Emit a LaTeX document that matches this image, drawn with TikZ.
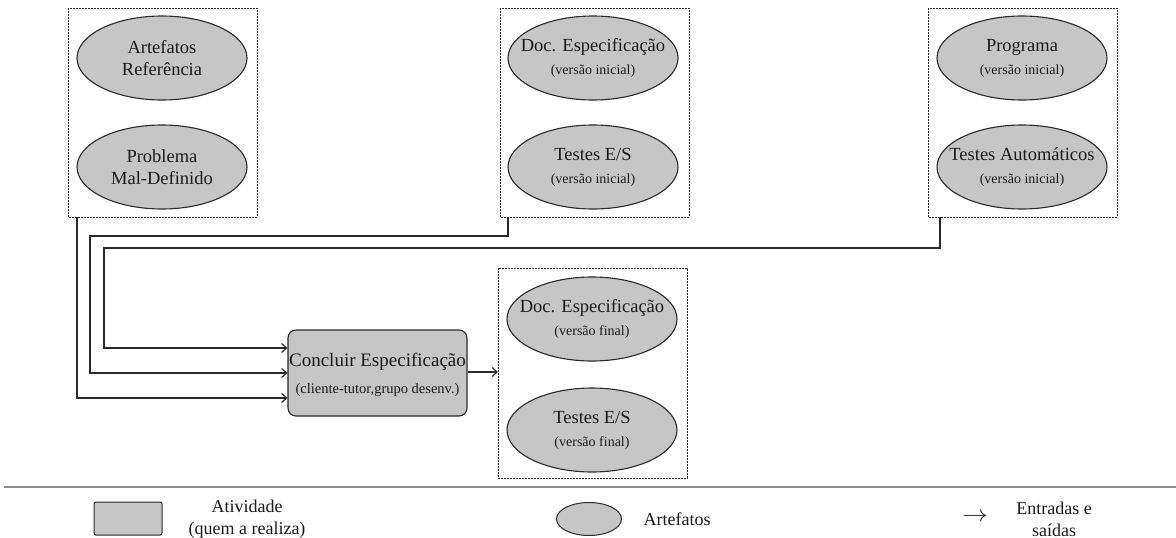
\documentclass[tikz,border=0pt]{standalone}
\usepackage{fontspec}
\setmainfont{Liberation Serif}
\usetikzlibrary{arrows.meta,shapes.geometric}
\definecolor{artfill}{HTML}{C6C6C6}
\definecolor{edge}{HTML}{2A2A2A}
\definecolor{ink}{HTML}{1A1A1A}
\newcommand{\subtxt}[1]{{\fontsize{14}{16}\selectfont #1}}
\tikzset{
  art/.style={ellipse, draw=edge, line width=1.1pt, fill=artfill,
    minimum width=170pt, minimum height=84pt, inner sep=0pt,
    label={[text=ink, align=center, font=\fontsize{18.5}{22}\selectfont]center:#1}},
  grp/.style={draw=edge, line width=0.9pt, dash pattern=on 2pt off 1pt},
  act/.style={draw=edge, line width=1.1pt, fill=artfill, rounded corners=8pt,
    minimum width=179pt, minimum height=86pt, inner sep=0pt},
  flow/.style={draw=edge, line width=1.2pt, -{Straight Barb[length=5pt,width=9pt]}},
  lgtxt/.style={text=ink, font=\fontsize{18}{22}\selectfont, align=center},
}
\begin{document}
\begin{tikzpicture}[x=1pt,y=-1pt]
\useasboundingbox (0,0) rectangle (1176,538);

% input groups
\draw[grp] (68,8) rectangle (257,217);
\node[art={Artefatos\\Referência}] (ref) at (162,58) {};
\node[art={Problema\\Mal-Definido}] (prob) at (162,167) {};
\coordinate (g1) at (77,217);

\draw[grp] (500,8) rectangle (689,217);
\node[art={Doc. Especificação\\[1pt]\subtxt{(versão inicial)}}] (doci) at (593,58) {};
\node[art={Testes E/S\\[1pt]\subtxt{(versão inicial)}}] (tesi) at (593,167) {};
\coordinate (g2) at (508,217);

\draw[grp] (928,8) rectangle (1117,217);
\node[art={Programa\\[1pt]\subtxt{(versão inicial)}}] (prog) at (1022,58) {};
\node[art={Testes Automáticos\\[1pt]\subtxt{(versão inicial)}}] (auto) at (1022,167) {};
\coordinate (g3) at (940,217);

% activity
\node[act] (act) at (377.5,373) {};
\node[text=ink, font=\fontsize{19}{22}\selectfont] (actt) at (377.5,362) {Concluir Especificação};
\node[text=ink, font=\fontsize{14.5}{16}\selectfont] (acts) at (377.5,390) {(cliente-tutor,grupo desenv.)};

% output group
\draw[grp] (498,268) rectangle (687,478);
\node[art={Doc. Especificação\\[1pt]\subtxt{(versão final)}}] (docf) at (592,319) {};
\node[art={Testes E/S\\[1pt]\subtxt{(versão final)}}] (tesf) at (592,430) {};
\coordinate (g4) at (498,372);

% flows
\draw[flow] (g1) -- (77,398) -- (act.west |- 0,398);
\draw[flow] (g2) -- (508,236) -- (90,236) -- (90,373) -- (act.west |- 0,373);
\draw[flow] (g3) -- (940,248) -- (104,248) -- (104,348) -- (act.west |- 0,348);
\draw[flow] (act.east |- 0,372) -- (g4);

% legend
\draw[line width=1.2pt, draw=black!45] (4,487) -- (1176,487);
\draw[line width=1pt, draw=edge, fill=artfill, rounded corners=2pt] (94,502) rectangle (162,535);
\node[lgtxt] (lg1) at (247,519) {Atividade\\(quem a realiza)};
\node[ellipse, draw=edge, line width=1pt, fill=artfill, minimum width=65pt, minimum height=33pt, inner sep=0pt] (lg2) at (589,519) {};
\node[lgtxt, anchor=west] (lg2t) at (640,519) {Artefatos};
\node[text=ink, font=\fontsize{18}{22}\selectfont] (lg3) at (975,517) {\scalebox{1.5}[1.3]{$\rightarrow$}};
\node[lgtxt] (lg3t) at (1054,519) {Entradas e\\saídas};
\end{tikzpicture}
\end{document}
